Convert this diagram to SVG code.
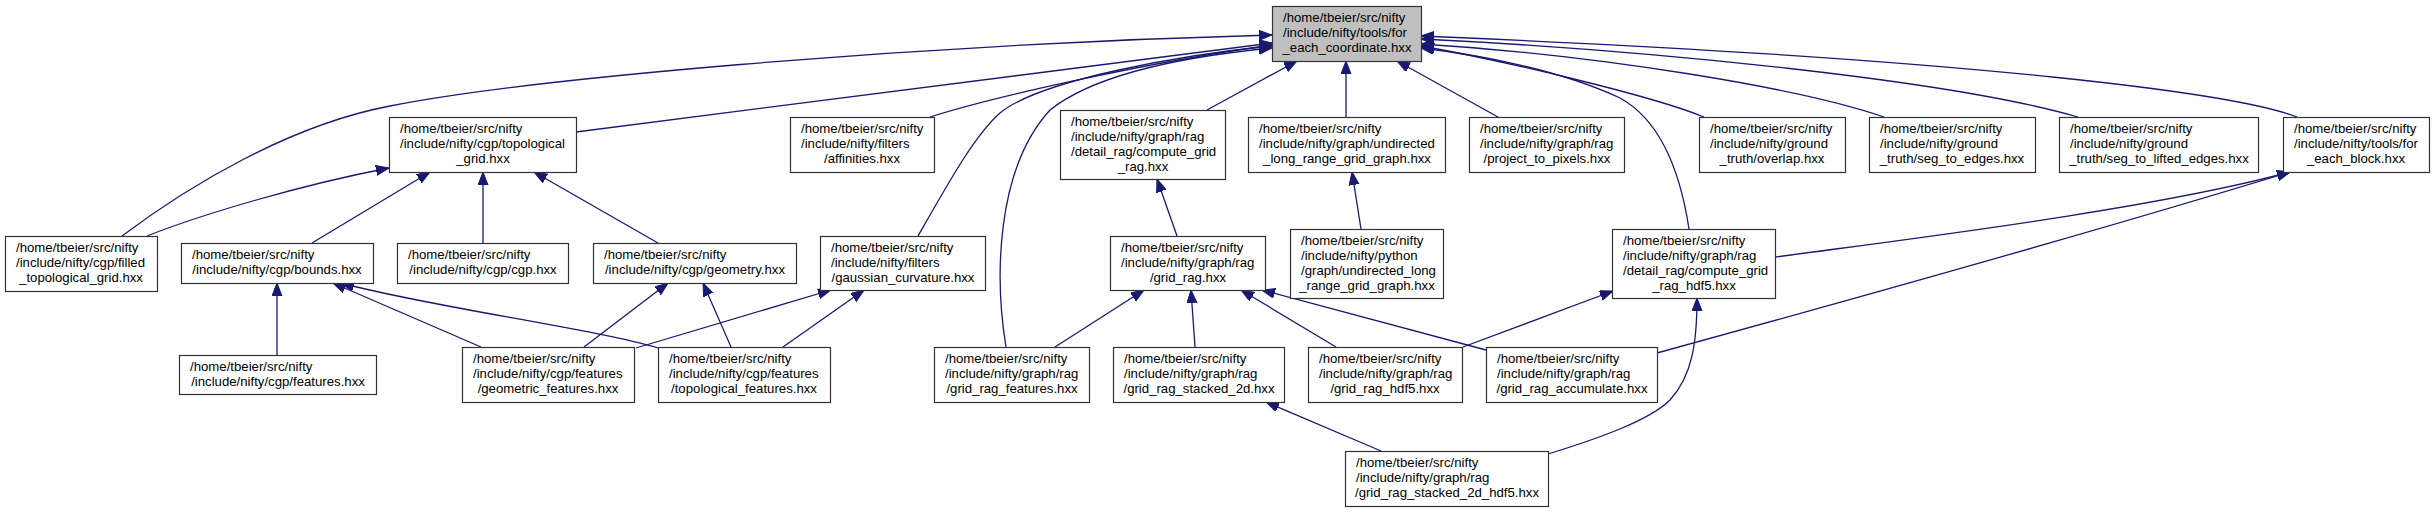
<svg xmlns="http://www.w3.org/2000/svg" width="2435" height="512" viewBox="0 0 2435 512">
<style>
.n rect{fill:#fff;stroke:#333;stroke-width:1.2}
.n.main rect{fill:#bfbfbf}
.n text{font-family:"Liberation Sans",Arial,Helvetica,sans-serif;font-size:13.2px;fill:#000}
.n text.c{text-anchor:middle}
.e path{fill:none;stroke:#191970;stroke-width:1.3;marker-end:url(#arr)}
</style>
<defs>
<marker id="arr" markerUnits="userSpaceOnUse" markerWidth="14" markerHeight="11" refX="13" refY="5" orient="auto">
<path d="M0,0 L13,5 L0,10 Z" fill="#191970" stroke="#191970" stroke-width="1"/>
</marker>
</defs>
<rect width="2435" height="512" fill="#fff"/>
<g id="edges" class="e">
<path d="M576,132 L1272,43"/>
<path d="M122,236 C190,185 290,125 390,106 C520,80 900,45 1272,35"/>
<path d="M930,117 C1000,95 1150,62 1272,45"/>
<path d="M918,236 C950,180 975,135 1000,113 C1040,80 1180,55 1272,46"/>
<path d="M1006,347 C995,280 995,170 1050,110 C1100,70 1200,55 1272,48"/>
<path d="M1207,110 L1297,61"/>
<path d="M1346,117 L1346,61"/>
<path d="M1498,117 L1397,61"/>
<path d="M1689,229 C1680,170 1660,120 1620,98 C1560,70 1480,55 1421,48"/>
<path d="M1704,117 C1650,95 1500,60 1421,46"/>
<path d="M1884,117 C1800,88 1600,55 1421,44"/>
<path d="M2078,117 C1950,80 1650,50 1421,39"/>
<path d="M2297,117 C2240,95 2000,60 1421,36"/>
<path d="M147,236 C200,215 300,185 389,168"/>
<path d="M312,243 L430,172"/>
<path d="M483,243 L483,172"/>
<path d="M658,243 L534,172"/>
<path d="M277,355 L277,283"/>
<path d="M481,347 L333,283"/>
<path d="M658,348 C600,330 420,305 341,283"/>
<path d="M584,347 L668,283"/>
<path d="M731,347 L703,283"/>
<path d="M636,348 L831,290"/>
<path d="M783,347 L864,290"/>
<path d="M1177,236 L1157,179"/>
<path d="M1055,347 L1144,290"/>
<path d="M1195,347 L1191,290"/>
<path d="M1336,347 L1241,290"/>
<path d="M1486,350 L1262,290"/>
<path d="M1361,229 L1352,172"/>
<path d="M1463,347 L1613,291"/>
<path d="M1548,454 C1600,438 1650,420 1670,400 C1693,375 1697,340 1697,298"/>
<path d="M1381,451 L1266,402"/>
<path d="M1776,257 C1900,240 2150,210 2290,172"/>
<path d="M1657,353 C1850,300 2100,230 2290,172"/>
</g>
<g id="n_main" class="n main"><rect x="1272.5" y="6.5" width="149" height="55"/><text x="1283" y="22">/home/tbeier/src/nifty</text><text x="1283" y="37">/include/nifty/tools/for</text><text class="c" x="1347" y="52">_each_coordinate.hxx</text></g>
<g id="n_topological_grid" class="n"><rect x="389.5" y="117.5" width="187" height="55"/><text x="400" y="133">/home/tbeier/src/nifty</text><text x="400" y="148">/include/nifty/cgp/topological</text><text class="c" x="483" y="163">_grid.hxx</text></g>
<g id="n_affinities" class="n"><rect x="790.5" y="117.5" width="144" height="55"/><text x="801" y="133">/home/tbeier/src/nifty</text><text x="801" y="148">/include/nifty/filters</text><text class="c" x="862" y="163">/affinities.hxx</text></g>
<g id="n_compute_grid_rag" class="n"><rect x="1060.5" y="110.5" width="165" height="69"/><text x="1071" y="125.5">/home/tbeier/src/nifty</text><text x="1071" y="140.5">/include/nifty/graph/rag</text><text x="1071" y="155.5">/detail_rag/compute_grid</text><text class="c" x="1143" y="170.5">_rag.hxx</text></g>
<g id="n_undirected" class="n"><rect x="1248.5" y="117.5" width="197" height="55"/><text x="1259" y="133">/home/tbeier/src/nifty</text><text x="1259" y="148">/include/nifty/graph/undirected</text><text class="c" x="1347" y="163">_long_range_grid_graph.hxx</text></g>
<g id="n_project_to_pixels" class="n"><rect x="1469.5" y="117.5" width="155" height="55"/><text x="1480" y="133">/home/tbeier/src/nifty</text><text x="1480" y="148">/include/nifty/graph/rag</text><text class="c" x="1547" y="163">/project_to_pixels.hxx</text></g>
<g id="n_overlap" class="n"><rect x="1699.5" y="117.5" width="146" height="55"/><text x="1710" y="133">/home/tbeier/src/nifty</text><text x="1710" y="148">/include/nifty/ground</text><text class="c" x="1772" y="163">_truth/overlap.hxx</text></g>
<g id="n_seg_to_edges" class="n"><rect x="1869.5" y="117.5" width="166" height="55"/><text x="1880" y="133">/home/tbeier/src/nifty</text><text x="1880" y="148">/include/nifty/ground</text><text class="c" x="1952" y="163">_truth/seg_to_edges.hxx</text></g>
<g id="n_seg_to_lifted_edges" class="n"><rect x="2059.5" y="117.5" width="199" height="55"/><text x="2070" y="133">/home/tbeier/src/nifty</text><text x="2070" y="148">/include/nifty/ground</text><text class="c" x="2159" y="163">_truth/seg_to_lifted_edges.hxx</text></g>
<g id="n_for_each_block" class="n"><rect x="2283.5" y="117.5" width="146" height="55"/><text x="2294" y="133">/home/tbeier/src/nifty</text><text x="2294" y="148">/include/nifty/tools/for</text><text class="c" x="2356" y="163">_each_block.hxx</text></g>
<g id="n_filled" class="n"><rect x="5.5" y="236.5" width="152" height="55"/><text x="16" y="252">/home/tbeier/src/nifty</text><text x="16" y="267">/include/nifty/cgp/filled</text><text class="c" x="81" y="282">_topological_grid.hxx</text></g>
<g id="n_bounds" class="n"><rect x="181.5" y="243.5" width="192" height="40"/><text x="192" y="259">/home/tbeier/src/nifty</text><text class="c" x="277" y="274">/include/nifty/cgp/bounds.hxx</text></g>
<g id="n_cgp" class="n"><rect x="397.5" y="243.5" width="171" height="40"/><text x="408" y="259">/home/tbeier/src/nifty</text><text class="c" x="483" y="274">/include/nifty/cgp/cgp.hxx</text></g>
<g id="n_geometry" class="n"><rect x="593.5" y="243.5" width="203" height="40"/><text x="604" y="259">/home/tbeier/src/nifty</text><text class="c" x="695" y="274">/include/nifty/cgp/geometry.hxx</text></g>
<g id="n_gaussian_curvature" class="n"><rect x="820.5" y="236.5" width="165" height="54"/><text x="831" y="251.5">/home/tbeier/src/nifty</text><text x="831" y="266.5">/include/nifty/filters</text><text class="c" x="903" y="281.5">/gaussian_curvature.hxx</text></g>
<g id="n_grid_rag" class="n"><rect x="1110.5" y="236.5" width="155" height="54"/><text x="1121" y="251.5">/home/tbeier/src/nifty</text><text x="1121" y="266.5">/include/nifty/graph/rag</text><text class="c" x="1188" y="281.5">/grid_rag.hxx</text></g>
<g id="n_python" class="n"><rect x="1290.5" y="229.5" width="153" height="69"/><text x="1301" y="244.5">/home/tbeier/src/nifty</text><text x="1301" y="259.5">/include/nifty/python</text><text x="1301" y="274.5">/graph/undirected_long</text><text class="c" x="1367" y="289.5">_range_grid_graph.hxx</text></g>
<g id="n_compute_grid_rag_hdf5" class="n"><rect x="1612.5" y="229.5" width="163" height="69"/><text x="1623" y="244.5">/home/tbeier/src/nifty</text><text x="1623" y="259.5">/include/nifty/graph/rag</text><text x="1623" y="274.5">/detail_rag/compute_grid</text><text class="c" x="1694" y="289.5">_rag_hdf5.hxx</text></g>
<g id="n_features" class="n"><rect x="179.5" y="355.5" width="197" height="39"/><text x="190" y="370.5">/home/tbeier/src/nifty</text><text class="c" x="278" y="385.5">/include/nifty/cgp/features.hxx</text></g>
<g id="n_geometric_features" class="n"><rect x="462.5" y="347.5" width="172" height="55"/><text x="473" y="363">/home/tbeier/src/nifty</text><text x="473" y="378">/include/nifty/cgp/features</text><text class="c" x="548" y="393">/geometric_features.hxx</text></g>
<g id="n_topological_features" class="n"><rect x="658.5" y="347.5" width="172" height="55"/><text x="669" y="363">/home/tbeier/src/nifty</text><text x="669" y="378">/include/nifty/cgp/features</text><text class="c" x="744" y="393">/topological_features.hxx</text></g>
<g id="n_grid_rag_features" class="n"><rect x="934.5" y="347.5" width="155" height="55"/><text x="945" y="363">/home/tbeier/src/nifty</text><text x="945" y="378">/include/nifty/graph/rag</text><text class="c" x="1012" y="393">/grid_rag_features.hxx</text></g>
<g id="n_grid_rag_stacked_2d" class="n"><rect x="1113.5" y="347.5" width="171" height="55"/><text x="1124" y="363">/home/tbeier/src/nifty</text><text x="1124" y="378">/include/nifty/graph/rag</text><text class="c" x="1199" y="393">/grid_rag_stacked_2d.hxx</text></g>
<g id="n_grid_rag_hdf5" class="n"><rect x="1308.5" y="347.5" width="154" height="55"/><text x="1319" y="363">/home/tbeier/src/nifty</text><text x="1319" y="378">/include/nifty/graph/rag</text><text class="c" x="1385" y="393">/grid_rag_hdf5.hxx</text></g>
<g id="n_grid_rag_accumulate" class="n"><rect x="1486.5" y="347.5" width="171" height="55"/><text x="1497" y="363">/home/tbeier/src/nifty</text><text x="1497" y="378">/include/nifty/graph/rag</text><text class="c" x="1572" y="393">/grid_rag_accumulate.hxx</text></g>
<g id="n_grid_rag_stacked_2d_hdf5" class="n"><rect x="1345.5" y="451.5" width="203" height="55"/><text x="1356" y="467">/home/tbeier/src/nifty</text><text x="1356" y="482">/include/nifty/graph/rag</text><text class="c" x="1447" y="497">/grid_rag_stacked_2d_hdf5.hxx</text></g>
</svg>
